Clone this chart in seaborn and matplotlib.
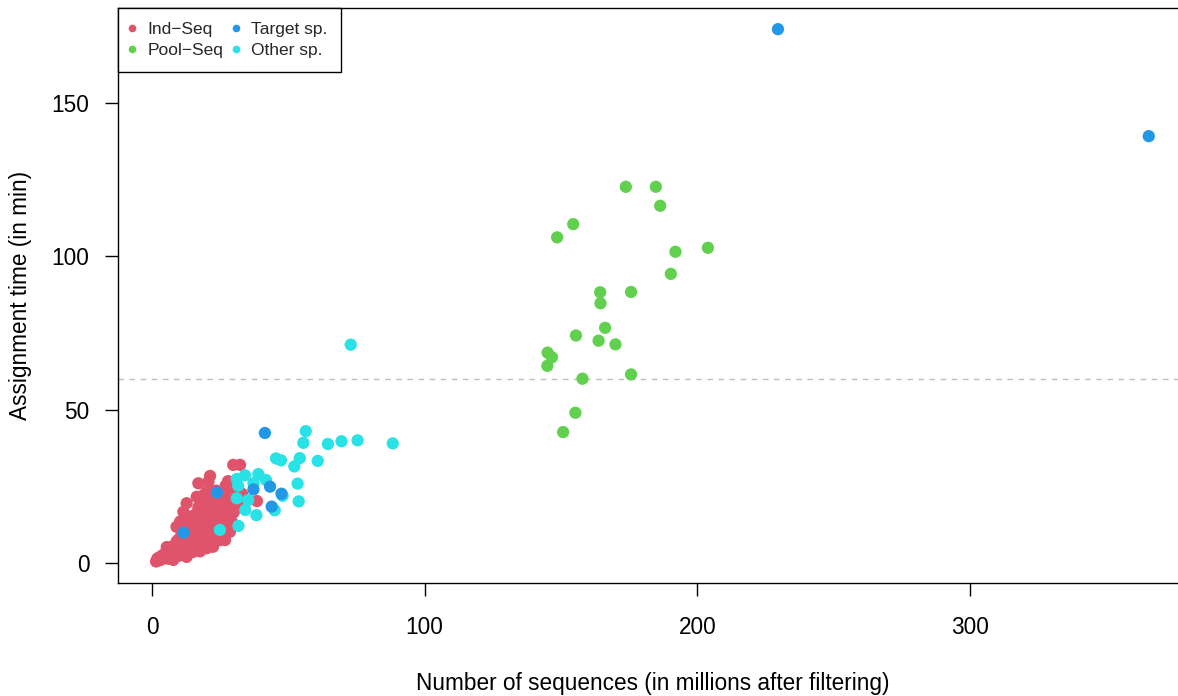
import pandas as pd
import matplotlib.pyplot as plt
import seaborn as sns

sns.set_theme(style="white")
plt.rcParams['font.family'] = ['Liberation Sans', 'DejaVu Sans']

# Ind-Seq samples (millions of sequences, minutes)
ind_x = [1.5, 2.0, 2.5, 3.0, 3.5, 4.0, 4.5, 5.0, 5.4, 5.5, 6.0, 6.0, 6.5, 7.0, 7.0, 7.5, 7.8, 8.0, 8.0, 8.5,
         9.0, 9.0, 9.0, 9.5, 10.0, 10.0, 10.0, 10.3, 10.5, 11.0, 11.0, 11.5, 11.5, 12.0, 12.0, 12.0, 12.5, 12.7, 12.7, 13.0,
         13.0, 13.5, 13.5, 14.0, 14.0, 14.0, 14.5, 14.5, 15.0, 15.0, 15.0, 15.0, 15.5, 15.5, 16.0, 16.0, 16.0, 16.0, 16.4, 16.5,
         16.5, 17.0, 17.0, 17.0, 17.0, 17.0, 17.5, 17.5, 17.6, 18.0, 18.0, 18.0, 18.0, 18.0, 18.5, 18.5, 19.0, 19.0, 19.0, 19.0,
         19.0, 19.5, 19.5, 20.0, 20.0, 20.0, 20.0, 20.0, 20.0, 20.5, 20.5, 20.7, 21.0, 21.0, 21.0, 21.0, 21.3, 21.5, 21.5, 22.0,
         22.0, 22.0, 22.0, 22.0, 22.4, 22.5, 22.5, 23.0, 23.0, 23.0, 23.0, 23.0, 23.5, 23.5, 24.0, 24.0, 24.0, 24.0, 24.5, 24.5,
         25.0, 25.0, 25.0, 25.0, 25.0, 25.5, 25.5, 26.0, 26.0, 26.0, 26.0, 26.5, 26.8, 27.0, 27.0, 27.0, 27.0, 27.5, 27.9, 28.0,
         28.0, 28.0, 28.5, 28.6, 29.0, 29.0, 29.2, 29.0, 29.8, 30.0, 30.0, 30.0, 31.0, 31.0, 31.5, 32.3, 32.0, 33.0, 38.5]
ind_y = [0.5, 1.5, 0.8, 2.0, 1.2, 2.6, 1.6, 3.2, 5.2, 2.2, 3.6, 1.4, 4.6, 2.8, 5.2, 3.6, 1.0, 4.2, 2.0, 5.6,
         3.0, 7.0, 11.8, 4.6, 2.4, 5.2, 8.0, 13.5, 3.8, 6.2, 9.0, 16.7, 4.6, 3.0, 7.2, 10.5, 5.6, 19.5, 2.0, 8.2,
         12.5, 4.2, 6.6, 9.6, 11.2, 14.2, 5.2, 7.6, 3.6, 8.6, 12.2, 15.4, 6.2, 10.2, 4.6, 7.2, 11.6, 13.6, 21.6, 9.2,
         16.2, 5.6, 8.2, 12.6, 18.2, 26.0, 10.2, 14.6, 3.8, 6.6, 9.2, 11.6, 15.6, 20.2, 7.6, 13.2, 5.6, 10.2, 12.2, 16.6,
         22.2, 8.2, 14.2, 4.8, 9.2, 11.2, 13.2, 18.2, 23.2, 7.0, 15.6, 26.5, 10.2, 12.2, 14.2, 20.2, 28.4, 8.6, 16.6, 6.6,
         11.2, 13.2, 18.6, 22.2, 5.3, 9.6, 15.2, 7.6, 12.2, 14.2, 17.2, 20.2, 10.6, 23.6, 8.6, 13.2, 15.6, 19.2, 11.6, 17.2,
         7.5, 9.6, 12.2, 14.6, 21.2, 16.2, 19.2, 10.6, 13.2, 18.2, 23.2, 15.2, 7.5, 12.2, 17.2, 20.2, 25.2, 14.2, 26.7, 16.2,
         19.2, 22.2, 13.2, 10.2, 15.2, 18.2, 22.8, 24.2, 32.0, 12.6, 20.2, 16.6, 24.4, 22.0, 18.2, 32.0, 20.2, 22.6, 20.2]

# Pool-Seq samples
pool_x = [173.8, 184.8, 186.4, 154.5, 148.6, 203.9, 192.0, 190.3, 164.4, 175.7, 164.5,
          166.2, 155.5, 163.8, 170.0, 145.1, 146.7, 145.0, 157.9, 175.7, 155.3, 150.8]
pool_y = [122.7, 122.7, 116.5, 110.5, 106.2, 102.8, 101.5, 94.3, 88.3, 88.4, 84.7,
          76.7, 74.2, 72.5, 71.3, 68.6, 67.1, 64.3, 60.1, 61.5, 49.0, 42.7]

# Other species
other_x = [72.9, 56.4, 55.5, 64.5, 69.5, 75.4, 88.3, 45.5, 47.3, 54.2, 52.2, 60.8, 53.4, 53.8,
           45.0, 47.9, 24.9, 31.7, 31.1, 35.3, 34.2, 38.3, 34.1, 39.0, 31.1, 31.6, 37.2, 41.8]
other_y = [71.2, 43.0, 39.2, 38.8, 39.7, 40.0, 39.0, 34.1, 33.5, 34.2, 31.5, 33.3, 25.9, 20.1,
           17.2, 21.9, 10.8, 12.1, 21.1, 20.5, 17.3, 15.6, 28.6, 29.0, 27.4, 25.2, 26.0, 27.1]

# Target species
target_x = [229.6, 365.6, 41.4, 23.8, 11.6, 37.2, 43.3, 47.5, 43.9]
target_y = [174.1, 139.2, 42.4, 23.0, 9.9, 24.0, 24.9, 22.6, 18.4]

groups = ['Ind\u2212Seq', 'Pool\u2212Seq', 'Target sp.', 'Other sp.']
cores = {'Ind\u2212Seq': '#DF536B', 'Pool\u2212Seq': '#61D04F',
         'Target sp.': '#2297E6', 'Other sp.': '#28E2E5'}

# ordem de desenho: Ind, Pool, Other, Target
df = pd.concat([
    pd.DataFrame({'x': ind_x, 'y': ind_y, 'grupo': groups[0]}),
    pd.DataFrame({'x': pool_x, 'y': pool_y, 'grupo': groups[1]}),
    pd.DataFrame({'x': other_x, 'y': other_y, 'grupo': groups[3]}),
    pd.DataFrame({'x': target_x, 'y': target_y, 'grupo': groups[2]}),
], ignore_index=True)

fig = plt.figure(figsize=(11.78, 6.96), dpi=100)
ax = fig.add_axes([118 / 1178, 113 / 696, 1070 / 1178, 575 / 696])

ax.axhline(60, color='#BEBEBE', linestyle=(0, (4, 4)), linewidth=1, zorder=1)
sns.scatterplot(data=df, x='x', y='y', hue='grupo', hue_order=groups, palette=cores,
                s=78, linewidth=0, alpha=1, ax=ax, zorder=2)

ax.set_xlim(-12.47, 380)
ax.set_ylim(-6.52, 181)
ax.set_xticks([0, 100, 200, 300])
ax.set_yticks([0, 50, 100, 150])
for s in ax.spines.values():
    s.set_color('black')
    s.set_linewidth(1)
ax.tick_params(axis='both', direction='out', length=9.5, width=1, color='black',
               labelsize=16.3, labelcolor='black', bottom=True, left=True)
ax.tick_params(axis='x', pad=14)
ax.tick_params(axis='y', pad=11)
ax.set_xlabel('Number of sequences (in millions after filtering)', fontsize=16.3, labelpad=24, color='black')
ax.set_ylabel('Assignment time (in min)', fontsize=16.3, labelpad=14, color='black')

handles, labels = ax.get_legend_handles_labels()
leg = ax.legend(handles, labels, ncol=2, loc='upper left', bbox_to_anchor=(0, 1),
                borderaxespad=0, fontsize=12.5, frameon=True, fancybox=False,
                edgecolor='black', framealpha=1, handletextpad=0.8, columnspacing=0.7,
                handlelength=0.1, labelspacing=0.38, borderpad=0.78)
leg.get_frame().set_linewidth(1)
for h in leg.legend_handles:
    h.set_markersize(5.5)

fig.savefig('out.png', dpi=100)
